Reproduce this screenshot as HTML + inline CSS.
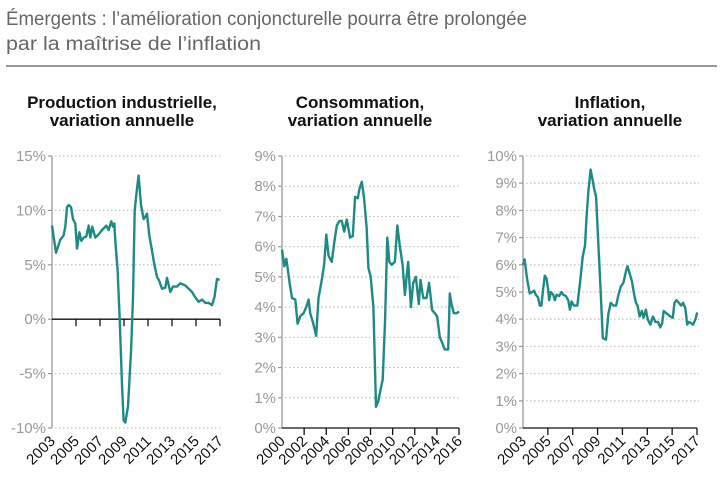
<!DOCTYPE html>
<html><head><meta charset="utf-8"><style>
body{margin:0;background:#fff;width:723px;height:486px;overflow:hidden;font-family:"Liberation Sans Narrow","Liberation Sans",sans-serif}
</style></head><body>
<svg id="c" width="723" height="486" xmlns="http://www.w3.org/2000/svg">
<text x="6" y="25" font-family="Liberation Sans Narrow, Liberation Sans, sans-serif" font-size="19" fill="#666" textLength="521" lengthAdjust="spacingAndGlyphs">Émergents : l’amélioration conjoncturelle pourra être prolongée</text>
<text x="6" y="50" font-family="Liberation Sans Narrow, Liberation Sans, sans-serif" font-size="19" fill="#666" textLength="255" lengthAdjust="spacingAndGlyphs">par la maîtrise de l’inflation</text>
<line x1="6" y1="66" x2="717" y2="66" stroke="#777" stroke-width="1.5"/>
</svg>
<script>
const prodYears=[2003.00,2003.33,2003.69,2003.97,2004.11,2004.25,2004.39,2004.58,2004.75,2004.94,2005.08,2005.28,2005.44,2005.64,2005.86,2006.06,2006.19,2006.36,2006.61,2006.89,2007.17,2007.53,2007.72,2007.94,2008.08,2008.19,2008.28,2008.47,2008.64,2008.83,2008.97,2009.11,2009.33,2009.58,2009.75,2009.89,2010.08,2010.22,2010.42,2010.64,2010.83,2010.92,2011.11,2011.33,2011.53,2011.75,2011.94,2012.17,2012.44,2012.58,2012.86,2013.08,2013.42,2013.69,2014.11,2014.39,2014.67,2014.94,2015.22,2015.50,2015.78,2016.06,2016.33,2016.53,2016.75,2016.97];
const prodValues=[8.6,6.1,7.3,7.7,8.5,10.3,10.5,10.3,9.2,8.8,6.5,8.0,7.2,7.5,7.6,8.6,7.5,8.5,7.5,7.8,8.2,8.6,8.2,9.0,8.5,8.8,7.1,4.5,0,-6,-9.3,-9.5,-8,-3,2,10,12,13.2,10.5,9.2,9.5,9.7,7.7,6.3,5.0,3.9,3.5,2.8,2.9,3.8,2.5,3.0,3.0,3.3,3.1,2.8,2.5,2.0,1.6,1.8,1.5,1.5,1.3,2.0,3.7,3.6];
const prodTicks=[15,10,5,0,-5,-10];
const prodTickLabels=["15%","10%","5%","0%","-5%","-10%"];
const prodXLabels=[2003,2005,2007,2009,2011,2013,2015,2017];

const consYears=[2000.00,2000.21,2000.39,2000.51,2000.69,2000.90,2001.20,2001.41,2001.65,2001.95,2002.19,2002.40,2002.55,2002.79,2003.09,2003.30,2003.60,2003.81,2004.00,2004.20,2004.50,2004.71,2004.95,2005.20,2005.41,2005.62,2005.86,2006.16,2006.40,2006.61,2006.85,2007.00,2007.21,2007.42,2007.66,2007.81,2008.02,2008.26,2008.50,2008.71,2008.92,2009.10,2009.31,2009.52,2009.70,2009.91,2010.21,2010.42,2010.66,2010.90,2011.11,2011.26,2011.41,2011.65,2011.86,2012.10,2012.37,2012.52,2012.76,2013.06,2013.30,2013.57,2013.81,2014.02,2014.26,2014.50,2014.71,2015.02,2015.17,2015.32,2015.53,2015.77,2016.01];
const consValues=[5.9,5.35,5.6,5.3,4.8,4.3,4.25,3.45,3.7,3.8,4.0,4.25,3.8,3.5,3.05,4.3,4.9,5.4,6.4,5.7,5.5,6.1,6.7,6.85,6.85,6.5,6.9,6.3,6.35,7.65,7.6,7.9,8.15,7.6,6.6,5.3,5.0,4.0,0.7,0.9,1.3,1.6,3.5,6.3,5.5,5.4,5.5,6.7,6.0,5.4,4.4,5.0,5.5,4.0,4.8,5.0,4.1,4.9,4.3,4.3,4.8,3.9,3.8,3.7,3.0,2.8,2.6,2.6,4.45,4.1,3.8,3.8,3.85];
const consTicks=[9,8,7,6,5,4,3,2,1,0];
const consTickLabels=["9%","8%","7%","6%","5%","4%","3%","2%","1%","0%"];
const consXLabels=[2000,2002,2004,2006,2008,2010,2012,2014,2016];

const inflYears=[2003.00,2003.13,2003.32,2003.54,2003.75,2003.89,2004.02,2004.21,2004.35,2004.48,2004.62,2004.75,2004.89,2005.02,2005.10,2005.24,2005.43,2005.56,2005.70,2005.91,2006.10,2006.23,2006.45,2006.64,2006.77,2006.91,2007.10,2007.37,2007.58,2007.80,2007.99,2008.12,2008.26,2008.44,2008.61,2008.72,2008.88,2009.06,2009.25,2009.42,2009.68,2009.87,2010.06,2010.28,2010.49,2010.68,2010.87,2011.09,2011.30,2011.41,2011.57,2011.76,2011.95,2012.08,2012.22,2012.38,2012.57,2012.70,2012.89,2013.03,2013.24,2013.46,2013.65,2013.86,2014.05,2014.19,2014.32,2014.59,2014.86,2015.05,2015.18,2015.35,2015.54,2015.73,2015.88,2016.07,2016.21,2016.35,2016.53,2016.69,2016.88,2017.02];
const inflValues=[6.0,6.2,5.5,4.95,5.0,5.05,4.9,4.8,4.5,4.5,5.1,5.6,5.5,5.1,4.7,5.0,4.9,4.7,4.9,4.85,5.0,4.9,4.85,4.7,4.35,4.65,4.5,4.5,5.3,6.3,6.7,7.8,8.7,9.5,9.1,8.8,8.5,6.8,5.0,3.3,3.25,4.2,4.6,4.5,4.5,4.9,5.2,5.35,5.8,5.95,5.7,5.4,4.9,4.6,4.5,4.1,4.3,4.05,4.35,4.0,3.8,4.1,3.9,3.9,3.7,3.85,4.3,4.2,4.1,4.05,4.6,4.7,4.6,4.5,4.6,4.4,3.8,3.9,3.85,3.8,4.0,4.25];
const inflTicks=[10,9,8,7,6,5,4,3,2,1,0];
const inflTickLabels=["10%","9%","8%","7%","6%","5%","4%","3%","2%","1%","0%"];
const inflXLabels=[2003,2005,2007,2009,2011,2013,2015,2017];

const NS="http://www.w3.org/2000/svg";
const svg=document.getElementById('c');
function mk(tag,attrs){const e=document.createElementNS(NS,tag);for(const k in attrs)e.setAttribute(k,attrs[k]);svg.appendChild(e);return e;}
function panel(o){
  const xs=v=>o.x0+(v-o.yr0)/(o.yr1-o.yr0)*(o.x1-o.x0);
  const ys=v=>o.yTop+(o.vMax-v)/(o.vMax-o.vMin)*(o.yBot-o.yTop);
  const t1=mk('text',{x:o.cx,y:108,'text-anchor':'middle','font-size':17,'font-weight':'bold',fill:'#111'});
  t1.textContent=o.t1;
  
  
  const t2=mk('text',{x:o.cx,y:126,'text-anchor':'middle','font-size':17,'font-weight':'bold',fill:'#111'});
  t2.textContent=o.t2;
  
  
  o.ticks.forEach((t,i)=>{
    const y=ys(t);
    if(t!==o.base){
      const g=mk('line',{x1:o.x0+3,y1:y,x2:o.x1+2,y2:y,stroke:'#bbb','stroke-width':1,'stroke-dasharray':'1.5,2.5'});
      
      
    }
    const tk=mk('line',{x1:o.x0-4,y1:y,x2:o.x0,y2:y,stroke:'#999','stroke-width':1.2});
    
    
    const lb=mk('text',{x:o.x0-6,y:y+5,'text-anchor':'end','font-size':15,fill:'#999'});
    lb.textContent=o.labels[i];
    
    
  });
  const ya=mk('line',{x1:o.x0,y1:ys(o.vMax),x2:o.x0,y2:ys(o.vMin),stroke:'#999','stroke-width':1.3});
  
  
  const by=ys(o.base);
  const xa=mk('line',{x1:o.x0,y1:by,x2:o.x1,y2:by,stroke:'#111','stroke-width':1.3});
  
  
  o.xl.forEach((yr,i)=>{
    const x=xs(yr);
    if(i>0){
      const tk=mk('line',{x1:x,y1:by,x2:x,y2:by+7,stroke:'#111','stroke-width':1.3});
      
      
    }
    const lb=mk('text',{x:x+4,y:o.labY,'text-anchor':'end','font-size':15,fill:'#111',transform:`rotate(-45 ${x+4} ${o.labY})`});
    lb.textContent=yr;
    
    
  });
  const d=o.years.map((yr,i)=>(i?'L':'M')+xs(yr).toFixed(1)+','+ys(o.vals[i]).toFixed(1)).join('');
  const p=mk('path',{d:d,fill:'none',stroke:'#1f8a84','stroke-width':2.4,'stroke-linejoin':'round'});
  
  
}
panel({id:'production',cx:122,t1:'Production industrielle,',t2:'variation annuelle',x0:52,x1:220,yr0:2003,yr1:2017,yTop:156,yBot:428,vMax:15,vMin:-10,base:0,ticks:prodTicks,labels:prodTickLabels,xl:prodXLabels,years:prodYears,vals:prodValues,labY:442});
panel({id:'consommation',cx:360,t1:'Consommation,',t2:'variation annuelle',x0:282,x1:459,yr0:2000,yr1:2016,yTop:156,yBot:428,vMax:9,vMin:0,base:0,ticks:consTicks,labels:consTickLabels,xl:consXLabels,years:consYears,vals:consValues,labY:442});
panel({id:'inflation',cx:610,t1:'Inflation,',t2:'variation annuelle',x0:523,x1:697,yr0:2003,yr1:2017,yTop:156,yBot:428,vMax:10,vMin:0,base:0,ticks:inflTicks,labels:inflTickLabels,xl:inflXLabels,years:inflYears,vals:inflValues,labY:442});
</script>
</body></html>
